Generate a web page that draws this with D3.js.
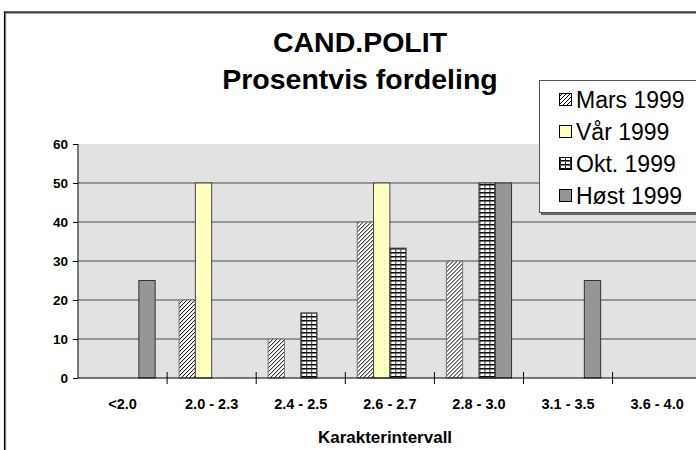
<!DOCTYPE html>
<html>
<head>
<meta charset="utf-8">
<script src="https://cdn.jsdelivr.net/npm/d3@7"></script>
<style>
  html, body { margin: 0; padding: 0; background: #fff; }
  svg { display: block; font-family: Arial, "Liberation Sans", sans-serif; }
</style>
</head>
<body>
<svg id="chart" width="696" height="450"></svg>
<script>
// ---- data ----
const categories = ["<2.0", "2.0 - 2.3", "2.4 - 2.5", "2.6 - 2.7", "2.8 - 3.0", "3.1 - 3.5", "3.6 - 4.0"];
const seriesNames = ["Mars 1999", "Vår 1999", "Okt. 1999", "Høst 1999"];
const mars = [0, 20, 10, 40, 30, 0, 0];
const vaar = [0, 50, 0, 50, 0, 0, 0];
const okt  = [0, 0, 16.7, 33.3, 50, 0, 0];
const host = [25, 0, 0, 0, 50, 25, 0];
const yTicks = [0, 10, 20, 30, 40, 50, 60];
const titleLines = ["CAND.POLIT", "Prosentvis fordeling"];
const xTitle = "Karakterintervall";

const seriesValues = [mars, vaar, okt, host];
const fills = ["url(#hatch)", "#ffffc0", "url(#grid)", "#969696"];
const strokes = ["#777", "#444", "#444", "#333"];

const svg = d3.select("#chart");
const defs = svg.append("defs");

// diagonal hatch
const hatch = defs.append("pattern").attr("id", "hatch")
  .attr("patternUnits", "userSpaceOnUse").attr("width", 4).attr("height", 4);
hatch.append("rect").attr("width", 4).attr("height", 4).attr("fill", "#fff");
hatch.append("path").attr("d", "M-1,1 L1,-1 M0,4 L4,0 M3,5 L5,3")
  .attr("stroke", "#000").attr("stroke-width", 1);

// small grid pattern (horizontal-dominant)
const grid = defs.append("pattern").attr("id", "grid")
  .attr("patternUnits", "userSpaceOnUse").attr("width", 5).attr("height", 4);
grid.append("rect").attr("width", 5).attr("height", 4).attr("fill", "#fff");
grid.append("path").attr("d", "M0,0.75 H5").attr("stroke", "#000").attr("stroke-width", 1.5);
grid.append("path").attr("d", "M0.5,0 V4").attr("stroke", "#333").attr("stroke-width", 1);

// outer frame
svg.append("rect").attr("x", 5.5).attr("y", 13).attr("width", 700).attr("height", 450)
  .attr("fill", "none").attr("stroke", "#888").attr("stroke-width", 1.5);
svg.append("rect").attr("x", 4.5).attr("y", 12).attr("width", 700).attr("height", 450)
  .attr("fill", "none").attr("stroke", "#000").attr("stroke-width", 1.2);

// plot geometry
const plotLeft = 78, plotTop = 144, plotBottom = 378;
const plotW = 89.1 * categories.length;

const x0 = d3.scaleBand().domain(categories).range([plotLeft, plotLeft + plotW]).paddingInner(0).paddingOuter(0);
const x1 = d3.scaleBand().domain(seriesNames).range([0, x0.bandwidth()]).paddingInner(0).paddingOuter(0.733);
const y = d3.scaleLinear().domain([0, 60]).range([plotBottom, plotTop]);

// plot background
svg.append("rect").attr("x", plotLeft).attr("y", plotTop).attr("width", plotW).attr("height", plotBottom - plotTop)
  .attr("fill", "#e2e2e2");

// gridlines
svg.append("g").selectAll("line").data(yTicks.filter(d => d > 0 && d < 60)).join("line")
  .attr("x1", plotLeft).attr("x2", plotLeft + plotW)
  .attr("y1", d => y(d)).attr("y2", d => y(d))
  .attr("stroke", "#4a4a4a").attr("stroke-width", 1.2);

// bars
const groups = svg.append("g").selectAll("g").data(categories).join("g")
  .attr("transform", d => `translate(${x0(d)},0)`);
groups.selectAll("rect")
  .data((c, ci) => seriesNames.map((s, si) => ({ s, si, v: seriesValues[si][ci] })).filter(d => d.v > 0))
  .join("rect")
  .attr("x", d => x1(d.s))
  .attr("width", x1.bandwidth())
  .attr("y", d => y(d.v))
  .attr("height", d => y(0) - y(d.v))
  .attr("fill", d => fills[d.si])
  .attr("stroke", d => strokes[d.si])
  .attr("stroke-width", 1);

// y axis
const yAxis = d3.axisLeft(y).tickValues(yTicks).tickSize(5).tickPadding(5);
const gy = svg.append("g").attr("transform", `translate(${plotLeft},0)`).call(yAxis);
gy.select(".domain").attr("stroke", "#000").attr("d", `M0,${plotTop}V${plotBottom}`);
gy.selectAll(".tick line").attr("stroke", "#000");
gy.selectAll(".tick text").attr("font-size", 13.5).attr("font-weight", "bold")
  .attr("font-family", "Arial, 'Liberation Sans', sans-serif").attr("fill", "#000");

// x axis
const xAxis = d3.axisBottom(x0).tickSize(0).tickPadding(21);
const gx = svg.append("g").attr("transform", `translate(0,${plotBottom})`).call(xAxis);
gx.select(".domain").attr("stroke", "#000").attr("d", `M${plotLeft},0H${plotLeft + plotW}`);
gx.selectAll(".tick text").attr("font-size", 14.5).attr("font-weight", "bold")
  .attr("font-family", "Arial, 'Liberation Sans', sans-serif").attr("fill", "#000");
// category boundary ticks
svg.append("g").selectAll("line").data(categories.slice(1)).join("line")
  .attr("x1", d => x0(d)).attr("x2", d => x0(d))
  .attr("y1", plotBottom - 6).attr("y2", plotBottom + 6)
  .attr("stroke", "#000").attr("stroke-width", 1);

// x axis title
svg.append("text").attr("x", 385).attr("y", 443).attr("text-anchor", "middle")
  .attr("font-size", 17).attr("font-weight", "bold").text(xTitle);

// title
svg.append("g").selectAll("text").data(titleLines).join("text")
  .attr("x", 360).attr("y", (d, i) => 52 + i * 37)
  .attr("text-anchor", "middle").attr("font-size", 28.5).attr("font-weight", "bold")
  .text(d => d);

// legend
const lg = svg.append("g");
lg.append("rect").attr("x", 541).attr("y", 82).attr("width", 180).attr("height", 133).attr("fill", "#666");
lg.append("rect").attr("x", 539.5).attr("y", 80.5).attr("width", 180).attr("height", 132)
  .attr("fill", "#fff").attr("stroke", "#555").attr("stroke-width", 1);
const items = lg.selectAll("g.item").data(seriesNames).join("g").attr("class", "item")
  .attr("transform", (d, i) => `translate(0,${100 + i * 32})`);
items.append("rect").attr("x", 559.5).attr("y", -6.5).attr("width", 12).attr("height", 12)
  .attr("fill", (d, i) => fills[i]).attr("stroke", "#000").attr("stroke-width", 1);
items.append("text").attr("x", 576).attr("y", 8).attr("font-size", 23).text(d => d);
</script>
</body>
</html>
